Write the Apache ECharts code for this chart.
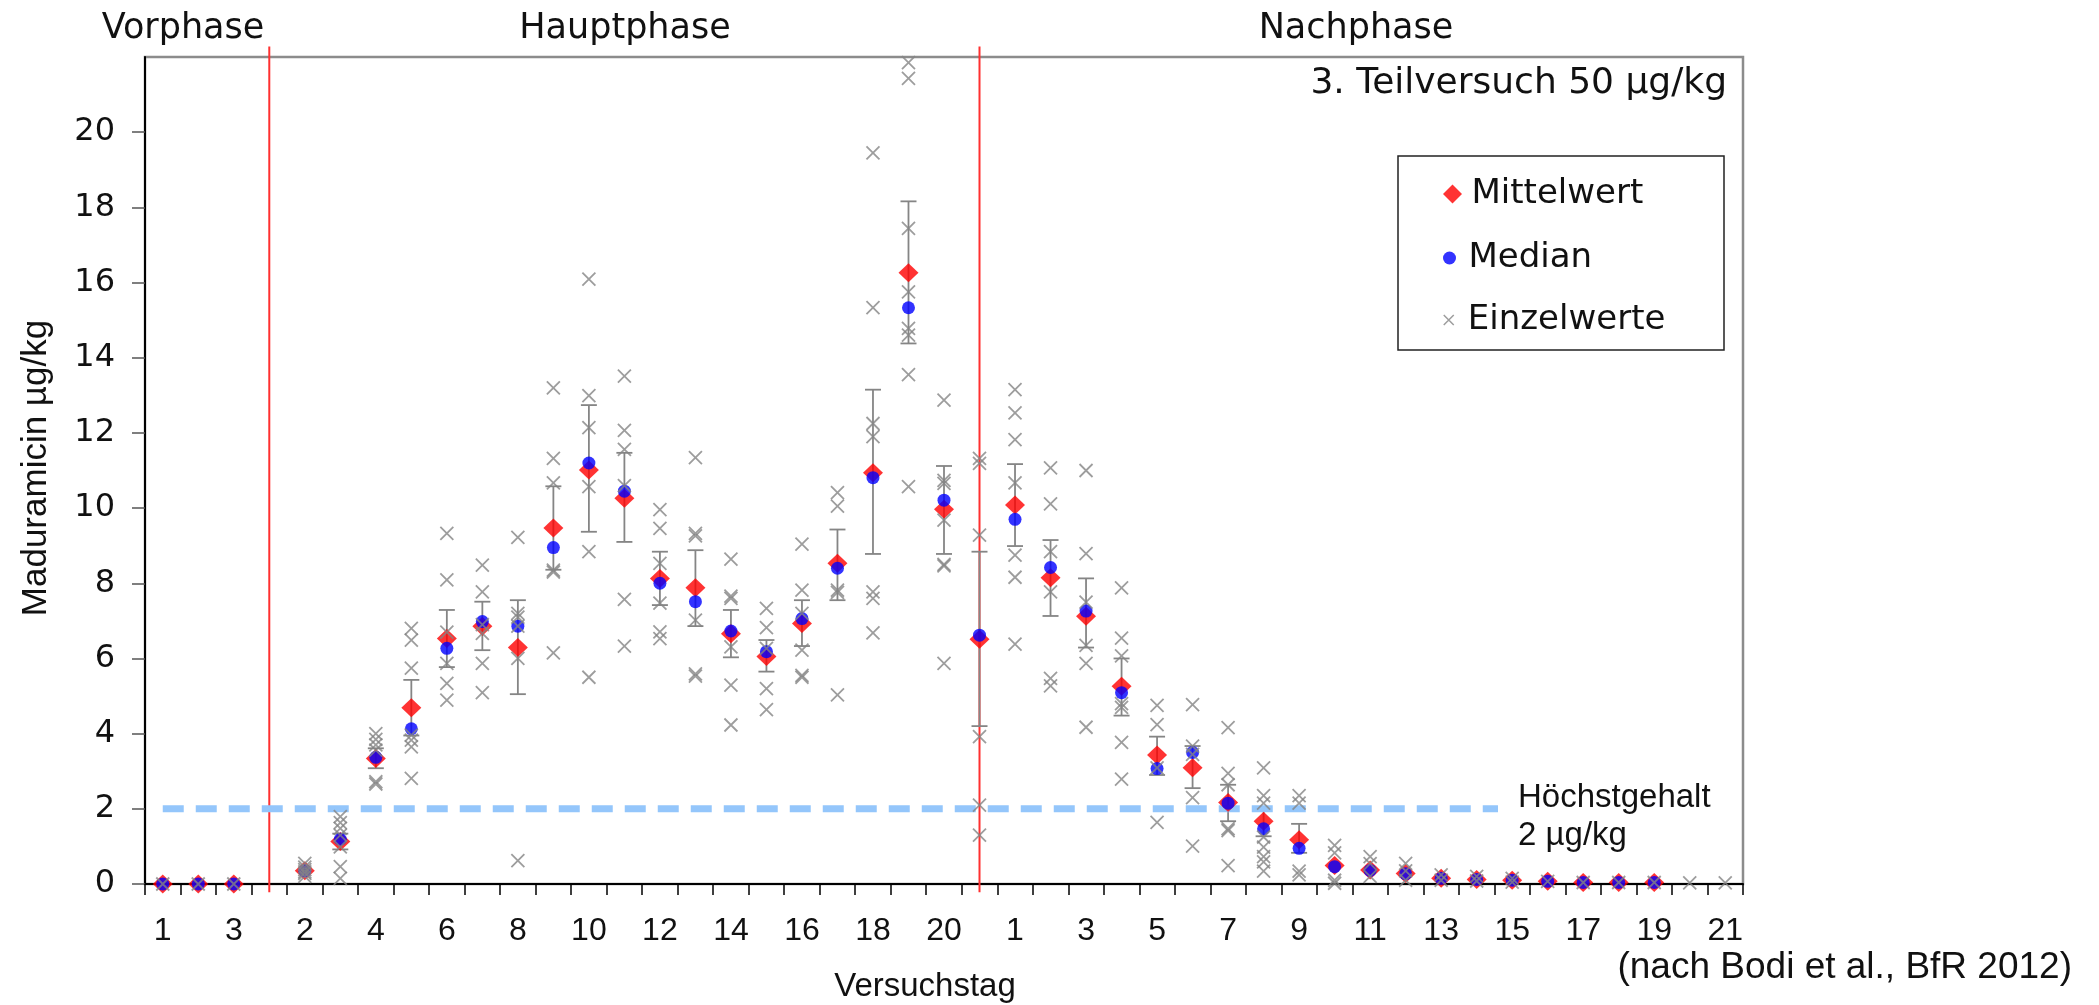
<!DOCTYPE html>
<html>
<head>
<meta charset="utf-8">
<script src="https://cdn.jsdelivr.net/npm/echarts@6/dist/echarts.min.js"></script>
<style>
html,body{margin:0;padding:0;background:#ffffff;}
#chart{width:2099px;height:1005px;}
</style>
</head>
<body>
<div id="chart"></div>
<script>
// Versuchstage: V = Vorphase, H = Hauptphase, N = Nachphase
const categories = ['V1','V2','V3',
  'H1','H2','H3','H4','H5','H6','H7','H8','H9','H10','H11','H12','H13','H14','H15','H16','H17','H18','H19','H20',
  'N0','N1','N2','N3','N4','N5','N6','N7','N8','N9','N10','N11','N12','N13','N14','N15','N16','N17','N18','N19','N20','N21'];

const mittelwert = [0,0,0,
  null,0.35,1.13,3.34,4.69,6.53,6.86,6.29,9.47,11.01,10.26,8.13,7.88,6.66,6.05,6.93,8.53,10.94,16.26,9.97,
  6.51,10.08,8.15,7.12,5.26,3.43,3.09,2.17,1.67,1.18,0.49,0.37,0.28,0.15,0.12,0.10,0.07,0.04,0.04,0.04,null,null];

const median = [0,0,0,
  null,0.35,1.19,3.37,4.13,6.27,6.98,6.86,8.95,11.20,10.45,8.00,7.51,6.73,6.18,7.06,8.40,10.81,15.33,10.21,
  6.62,9.70,8.42,7.26,5.09,3.07,3.50,2.15,1.47,0.95,0.46,0.36,0.27,0.15,0.12,0.10,0.07,0.04,0.04,0.04,null,null];

const fehlerUnten = [null,null,null,
  null,null,0.92,3.08,3.95,5.77,6.22,5.05,8.36,9.37,9.10,7.42,6.86,6.03,5.65,6.33,7.55,8.78,14.38,8.78,
  4.20,8.99,7.13,6.29,4.48,2.90,2.55,1.67,1.27,0.83,null,null,null,null,null,null,null,null,null,null,null,null];

const fehlerOben = [null,null,null,
  null,null,1.34,3.61,5.43,7.29,7.51,7.55,10.58,12.74,11.47,8.84,8.88,7.29,6.49,7.55,9.43,13.15,18.16,11.12,
  8.84,11.17,9.15,8.13,6.00,3.92,3.67,2.64,2.03,1.60,null,null,null,null,null,null,null,null,null,null,null,null];

const einzelwerte = [
  [0],[0],[0],
  [],
  [0.55,0.45,0.38,0.32,0.28,0.2],
  [1.79,1.63,1.48,1.3,0.99,0.46,0.15],
  [4.0,3.85,3.7,3.56,2.72,2.66],
  [6.8,6.49,5.74,3.96,3.83,3.65,2.81],
  [9.33,8.09,6.7,5.87,5.34,4.89],
  [8.48,7.77,6.9,6.67,5.87,5.09],
  [9.22,7.2,7.1,6.86,6.0,0.62],
  [13.2,11.32,10.67,8.35,8.3,6.15],
  [16.09,12.99,12.14,10.57,8.84,5.5],
  [13.51,12.07,11.56,10.6,7.57,6.33],
  [9.96,9.46,8.53,7.47,6.71,6.53],
  [11.34,9.33,9.26,7.02,5.59,5.53],
  [8.64,7.66,7.6,6.31,5.29,4.23],
  [7.33,6.82,6.27,5.2,4.64],
  [9.04,7.82,7.2,6.22,5.55,5.5],
  [10.41,10.05,7.82,7.76,5.03],
  [19.45,15.33,12.25,11.9,7.77,7.6,6.68],
  [21.85,21.43,17.44,15.75,14.78,14.6,13.55,10.57],
  [12.87,10.74,10.66,9.68,8.5,8.46,5.87],
  [11.32,11.19,9.28,3.92,2.1,1.3],
  [13.15,12.53,11.82,10.67,8.75,8.16,6.38],
  [11.07,10.11,8.84,7.77,5.47,5.27],
  [11.0,8.79,7.5,6.35,5.87,4.17],
  [7.88,6.54,6.07,4.8,4.7,3.77,2.79],
  [4.75,4.24,3.09,1.64],
  [4.77,3.67,3.45,2.3,1.01],
  [4.16,2.94,2.64,1.47,1.42,0.49],
  [3.09,2.35,2.15,1.25,0.98,0.73,0.59,0.34],
  [2.35,2.15,0.34,0.24],
  [1.03,0.83,0.1,0.02],
  [0.73,0.54,0.2],
  [0.55,0.35,0.1],
  [0.24,0.1],
  [0.2,0.08],
  [0.15,0.05],
  [0.07],[0.04],[0.04],[0.04],[0.03],[0.03]
];

const yTicks = [0,2,4,6,8,10,12,14,16,18,20];
const phasenGrenzen = [3, 23];           // category index of the red phase lines
const hoechstgehalt = 2;                 // µg/kg
const hoechstgehaltBereich = [0, 37.6];  // extent of the dashed line in category units
const phasenNamen = ['Vorphase','Hauptphase','Nachphase'];

// ---- build series data ----
const meanData = mittelwert.map((v,i)=> v==null?null:[i,v]).filter(Boolean);
const medianData = median.map((v,i)=> v==null?null:[i,v]).filter(Boolean);
const singleData = [];
einzelwerte.forEach((arr,i)=>arr.forEach(v=>singleData.push([i,v])));
const errData = fehlerUnten.map((l,i)=> l==null?null:[i,l,fehlerOben[i]]).filter(Boolean);

const GREY = '#858585';
const crossPath = 'path://M0,0L10,10M10,0L0,10';

const redLines = phasenGrenzen.map(b => ({
  type:'line', xAxisIndex:1, yAxisIndex:0, clip:false, symbol:'none', silent:true, z:1,
  lineStyle:{color:'#ff3030', width:2},
  data:[[b,-0.22],[b,22.28]]
}));

const chart = echarts.init(document.getElementById('chart'), null, {renderer:'canvas'});
const option = {
  animation:false,
  backgroundColor:'#ffffff',
  grid:{left:145, right:356, top:57, bottom:121, show:true, borderColor:'#8c8c8c', borderWidth:2.5, backgroundColor:'transparent'},
  legend:[
    {data:[{name:'Mittelwert', icon:'path://M5,0L10,5L5,10L0,5Z'}], left:1443, top:177, itemWidth:28, itemHeight:19, padding:0,
     itemStyle:{color:'#ff0000'}, textStyle:{fontFamily:'DejaVu Sans', fontSize:34, color:'#111'}},
    {data:[{name:'Median', icon:'circle'}], left:1443, top:241, itemWidth:28, itemHeight:13, padding:0,
     itemStyle:{color:'#0000ff'}, textStyle:{fontFamily:'DejaVu Sans', fontSize:34, color:'#111'}},
    {data:[{name:'Einzelwerte', icon:crossPath}], left:1443, top:303, itemWidth:28, itemHeight:10, padding:0,
     itemStyle:{color:'transparent', borderColor:GREY, borderWidth:1.5}, textStyle:{fontFamily:'DejaVu Sans', fontSize:34, color:'#111'}}
  ],
  xAxis:[
    {type:'category', data:categories, boundaryGap:true, gridIndex:0,
     axisLine:{show:true, onZero:false, lineStyle:{color:'#000', width:2}},
     axisTick:{show:true, interval:0, length:11, lineStyle:{color:'#000', width:1.5}},
     axisLabel:{interval:1, margin:31, fontFamily:'Liberation Sans', fontSize:32, color:'#111',
       formatter:v=>v.replace(/^[A-Z]+/,'')},
     splitLine:{show:false}},
    {type:'value', min:-0.5, max:44.5, show:false, gridIndex:0}
  ],
  yAxis:[
    {type:'value', min:0, max:22,
     axisLine:{show:true, onZero:false, lineStyle:{color:'#000', width:2}},
     axisTick:{show:true, customValues:yTicks, length:13, lineStyle:{color:'#555', width:1.5}},
     axisLabel:{customValues:yTicks, margin:30, fontFamily:'DejaVu Sans', fontSize:32, color:'#111'},
     splitLine:{show:false}}
  ],
  graphic:[
    {type:'rect', shape:{x:1398, y:156, width:326, height:194}, style:{fill:'none', stroke:'#222', lineWidth:1.5}, z:10},
    {type:'text', x:183, y:29, style:{text:phasenNamen[0], fontFamily:'DejaVu Sans', fontSize:35, fill:'#111', align:'center', verticalAlign:'middle'}},
    {type:'text', x:625, y:29, style:{text:phasenNamen[1], fontFamily:'DejaVu Sans', fontSize:35, fill:'#111', align:'center', verticalAlign:'middle'}},
    {type:'text', x:1356, y:29, style:{text:phasenNamen[2], fontFamily:'DejaVu Sans', fontSize:35, fill:'#111', align:'center', verticalAlign:'middle'}},
    {type:'text', x:1727, y:84, style:{text:'3. Teilversuch 50 µg/kg', fontFamily:'DejaVu Sans', fontSize:36, fill:'#111', align:'right', verticalAlign:'middle'}},
    {type:'text', x:1518, y:798, style:{text:'Höchstgehalt', fontFamily:'Liberation Sans', fontSize:33, fill:'#111', align:'left', verticalAlign:'middle'}},
    {type:'text', x:1518, y:836, style:{text:'2 µg/kg', fontFamily:'Liberation Sans', fontSize:33, fill:'#111', align:'left', verticalAlign:'middle'}},
    {type:'text', x:925, y:987, style:{text:'Versuchstag', fontFamily:'Liberation Sans', fontSize:33, fill:'#111', align:'center', verticalAlign:'middle'}},
    {type:'text', x:2072, y:968, style:{text:'(nach Bodi et al., BfR 2012)', fontFamily:'Liberation Sans', fontSize:37, fill:'#111', align:'right', verticalAlign:'middle'}},
    {type:'text', x:36, y:468, rotation:Math.PI/2, style:{text:'Maduramicin µg/kg', fontFamily:'Liberation Sans', fontSize:35, fill:'#111', align:'center', verticalAlign:'middle'}}
  ],
  series:[
    {type:'custom', name:'Fehlerbalken', xAxisIndex:0, yAxisIndex:0, z:2, silent:true,
     data:errData, encode:{x:0, y:[1,2]},
     renderItem:(params, api)=>{
       const x = api.value(0);
       const lo = api.coord([x, api.value(1)]);
       const hi = api.coord([x, api.value(2)]);
       const w = 8;
       const style = {stroke:GREY, lineWidth:1.8};
       return {type:'group', children:[
         {type:'line', shape:{x1:lo[0], y1:lo[1], x2:hi[0], y2:hi[1]}, style},
         {type:'line', shape:{x1:lo[0]-w, y1:lo[1], x2:lo[0]+w, y2:lo[1]}, style},
         {type:'line', shape:{x1:hi[0]-w, y1:hi[1], x2:hi[0]+w, y2:hi[1]}, style}
       ]};
     }},
    ...redLines,
    {type:'line', name:'Höchstgehalt', xAxisIndex:1, yAxisIndex:0, symbol:'none', silent:true, z:2,
     lineStyle:{color:'#94c6fb', width:7, type:[21,12]},
     data:[[hoechstgehaltBereich[0], hoechstgehalt],[hoechstgehaltBereich[1], hoechstgehalt]]},
    {type:'scatter', name:'Mittelwert', xAxisIndex:0, yAxisIndex:0, z:3,
     symbol:'diamond', symbolSize:[20,19], itemStyle:{color:'#ff0000'}, data:meanData},
    {type:'scatter', name:'Median', xAxisIndex:0, yAxisIndex:0, z:4,
     symbol:'circle', symbolSize:13, itemStyle:{color:'#0000ff'}, data:medianData},
    {type:'scatter', name:'Einzelwerte', xAxisIndex:0, yAxisIndex:0, z:5,
     symbol:crossPath, symbolSize:13, itemStyle:{color:'transparent', borderColor:GREY, borderWidth:1.8}, data:singleData}
  ]
};
chart.setOption(option);
</script>
</body>
</html>
